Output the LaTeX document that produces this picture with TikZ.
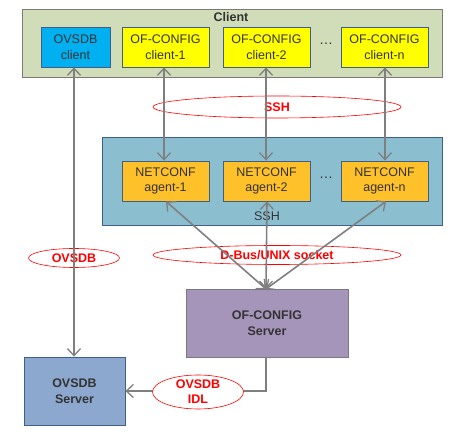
\documentclass[tikz,border=0pt]{standalone}
\usepackage{fontspec}
\setmainfont{Liberation Sans}
\usetikzlibrary{arrows.meta,shapes.geometric}
\definecolor{clientbg}{HTML}{D1DDB9}
\definecolor{grayborder}{HTML}{7A7A7A}
\definecolor{blueborder}{HTML}{3E5F8A}
\definecolor{netbg}{HTML}{8BBFD0}
\definecolor{ovsdbc}{HTML}{00B0F0}
\definecolor{ofc}{HTML}{FFFF00}
\definecolor{agentc}{HTML}{FFC12A}
\definecolor{ofserver}{HTML}{A595BA}
\definecolor{ovserver}{HTML}{8DA8CF}
\definecolor{txt}{HTML}{333333}
\definecolor{arr}{HTML}{7F7F7F}
\definecolor{lblred}{HTML}{FF0000}
\tikzset{
  fnt/.style={font=\fontsize{12.5}{15.5}\selectfont},
  box/.style={draw=blueborder, line width=0.8pt, minimum width=87pt, minimum height=40pt, inner sep=0pt, align=center, text=txt, fnt},
  cont/.style={line width=1pt, inner sep=0pt, anchor=north west},
  conn/.style={draw=arr, line width=1.6pt, {Straight Barb[length=7pt,width=13pt,line width=1.3pt]}-{Straight Barb[length=7pt,width=13pt,line width=1.3pt]}},
  conn1/.style={draw=arr, line width=1.6pt, -{Straight Barb[length=7pt,width=13pt,line width=1.3pt]}},
  lbl/.style={ellipse, draw=lblred, line width=0.6pt, inner sep=0pt, text=lblred, font=\fontsize{12.5}{14}\selectfont\bfseries, align=center},
  dots/.style={text=txt, font=\fontsize{14}{14}\selectfont}
}
\begin{document}
\begin{tikzpicture}[x=1pt,y=-1pt]
\useasboundingbox (0,0) rectangle (464,435);
% containers
\node[cont, draw=grayborder, fill=clientbg, minimum width=420pt, minimum height=68pt] (clientbox) at (22,9) {};
\node[text=txt, font=\fontsize{12.5}{14}\selectfont\bfseries] (clienttitle) at (231,17) {Client};
\node[cont, draw=blueborder, fill=netbg, minimum width=340pt, minimum height=88pt] (netbox) at (102,137) {};
\node[text=txt, fnt] (sshin) at (267,216) {SSH};
% client nodes
\node[box, fill=ovsdbc, minimum width=69pt] (ovc) at (75.5,47) {OVSDB\\client};
\node[box, fill=ofc] (c1) at (165.5,47) {OF-CONFIG\\client-1};
\node[box, fill=ofc] (c2) at (266.5,47) {OF-CONFIG\\client-2};
\node[box, fill=ofc] (cn) at (384.5,47) {OF-CONFIG\\client-n};
\node[dots] (cdots) at (326,44) {\dots};
% agents
\node[box, fill=agentc] (a1) at (165.5,181) {NETCONF\\agent-1};
\node[box, fill=agentc] (a2) at (266.5,181) {NETCONF\\agent-2};
\node[box, fill=agentc] (an) at (384.5,181) {NETCONF\\agent-n};
\node[dots] (adots) at (326,178) {\dots};
% servers
\node[box, draw=grayborder, fill=ofserver, minimum width=162pt, minimum height=68pt, font=\fontsize{12.5}{16}\selectfont\bfseries] (ofs) at (267,323) {OF-CONFIG\\Server};
\node[box, fill=ovserver, minimum width=101pt, minimum height=68pt, font=\fontsize{12.5}{16}\selectfont\bfseries] (ovs) at (74.5,391) {OVSDB\\Server};
% labels under lines
\node[lbl, minimum width=248pt, minimum height=22pt] (sshlbl) at (277,107) {SSH};
\node[lbl, minimum width=248pt, minimum height=19pt] (dbus) at (277,255) {D-Bus/UNIX socket};
\node[lbl, minimum width=91pt, minimum height=19pt] (ovlbl) at (74,258) {OVSDB};
% connectors
\draw[conn] (ovc.south -| 74,0) -- (ovs.north -| 74,0);
\draw[conn] (c1.south -| 164,0) -- (a1.north -| 164,0);
\draw[conn] (c2.south -| 266,0) -- (a2.north -| 266,0);
\draw[conn] (cn.south -| 385,0) -- (an.north -| 385,0);
\coordinate (hub) at (266,289);
\draw[conn] (hub) -- (a1.south -| 166,0);
\draw[conn] (hub) -- (a2.south -| 267,0);
\draw[conn] (hub) -- (an.south -| 386,0);
\coordinate (bend) at (266,391);
\draw[conn1] (ofs.south -| 266,0) -- (bend) -- (ovs.east);
% label over line
\node[lbl, fill=white, minimum width=91pt, minimum height=34pt, font=\fontsize{12.5}{15}\selectfont\bfseries] (idl) at (198,392) {OVSDB\\IDL};
\end{tikzpicture}
\end{document}
